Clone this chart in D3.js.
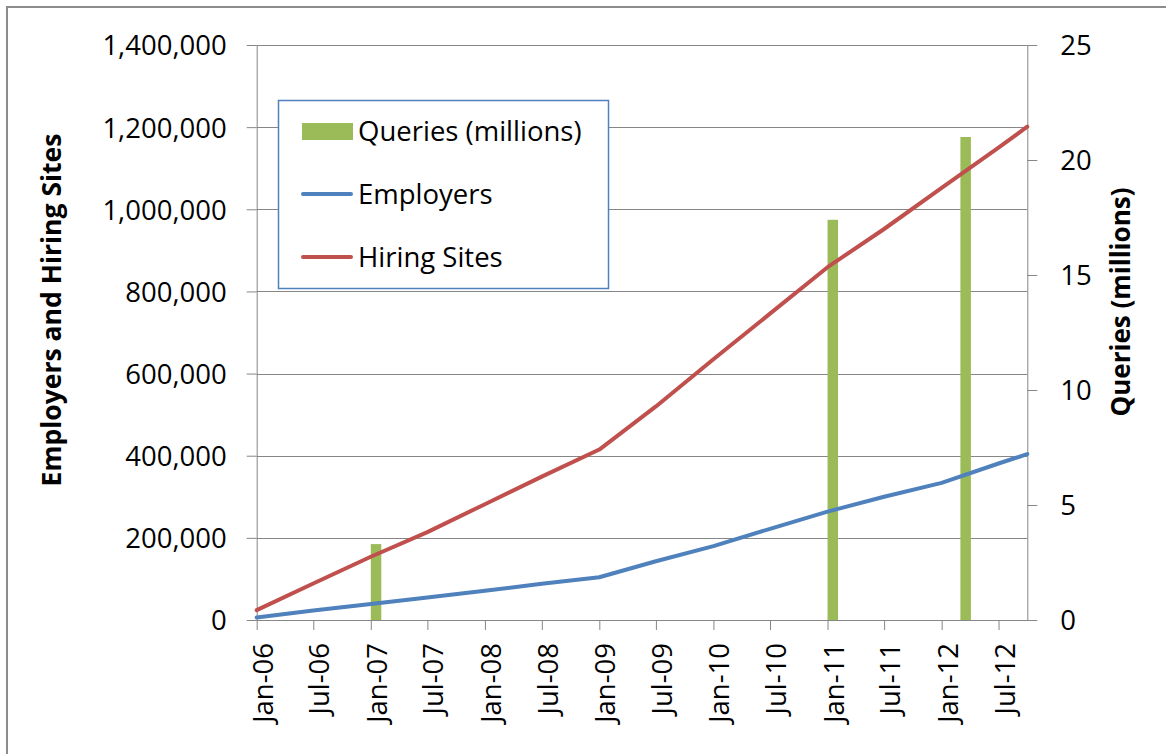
<!DOCTYPE html>
<html>
<head>
<meta charset="utf-8">
<script src="https://cdn.jsdelivr.net/npm/d3@7"></script>
<style>
  body { margin: 0; background: #fff; }
  svg { display: block; font-family: "Open Sans", sans-serif; }
</style>
</head>
<body>
<div id="chart"></div>
<script>
// half-year readings, last point is the end of the axis
const months = ["2006-01", "2006-07", "2007-01", "2007-07", "2008-01", "2008-07", "2009-01",
  "2009-07", "2010-01", "2010-07", "2011-01", "2011-07", "2012-01", "2012-07", "2012-10"];
const employers = [6000, 23000, 39000, 55000, 71000, 88000, 104000,
  143000, 180000, 222000, 264000, 300000, 334000, 381000, 404000];
const hiringSites = [24000, 89000, 154000, 214000, 282000, 349000, 415000,
  520000, 635000, 746000, 859000, 952000, 1052000, 1150000, 1201000];

const queryMonths = ["2007-01", "2011-01", "2012-03"];
const queries = [3.3, 17.4, 21.0];

const leftTicks = [0, 200000, 400000, 600000, 800000, 1000000, 1200000, 1400000];
const rightTicks = [0, 5, 10, 15, 20, 25];

const legendItems = ["Queries (millions)", "Employers", "Hiring Sites"];

document.addEventListener('DOMContentLoaded', function () {
  const width = 1166, height = 754;
  const left = 256.7, right = 1027.3, top = 45, bottom = 620;
  const gray = '#868686';
  const red = '#c0504d', blue = '#4f81bd', green = '#9bbb59';

  const parse = d3.timeParse('%Y-%m');

  const svg = d3.select('#chart')
    .append('svg')
    .attr('width', width)
    .attr('height', height);

  // outer chart border (only left and top show in the frame)
  svg.append('rect')
    .attr('x', 7).attr('y', 7)
    .attr('width', 1200).attr('height', 800)
    .attr('fill', 'none')
    .attr('stroke', '#8c8c8c')
    .attr('stroke-width', 2);

  const x = d3.scaleTime()
    .domain([parse('2006-01'), parse('2012-10')])
    .range([left, right]);
  const yLeft = d3.scaleLinear().domain([0, 1400000]).range([bottom, top]);
  const yRight = d3.scaleLinear().domain([0, 25]).range([bottom, top]);

  // gridlines
  svg.append('g')
    .selectAll('line')
    .data(leftTicks)
    .enter()
    .append('line')
    .attr('x1', left).attr('x2', right)
    .attr('y1', d => Math.round(yLeft(d)) + 0.5)
    .attr('y2', d => Math.round(yLeft(d)) + 0.5)
    .attr('stroke', gray)
    .attr('stroke-width', 1);

  // axes
  const fontSize = '27.5px';

  const gLeft = svg.append('g')
    .attr('transform', `translate(${left},0)`)
    .call(d3.axisLeft(yLeft).tickValues(leftTicks).tickFormat(d3.format(','))
      .tickSize(10).tickSizeOuter(0).tickPadding(20));

  const gRight = svg.append('g')
    .attr('transform', `translate(${right},0)`)
    .call(d3.axisRight(yRight).tickValues(rightTicks)
      .tickSize(10).tickSizeOuter(0).tickPadding(23));

  const xTicks = d3.timeMonth.every(6).range(parse('2006-01'), parse('2012-10'));
  const gBottom = svg.append('g')
    .attr('transform', `translate(0,${bottom})`)
    .call(d3.axisBottom(x).tickValues(xTicks).tickFormat(d3.timeFormat('%b-%y'))
      .tickSize(10).tickSizeOuter(0));

  gBottom.selectAll('text')
    .attr('transform', 'rotate(-90)')
    .attr('text-anchor', 'end')
    .attr('x', -23)
    .attr('y', 0)
    .attr('dy', 15.5);

  [gLeft, gRight, gBottom].forEach(g => {
    g.select('.domain').attr('stroke', gray).attr('stroke-width', 1);
    g.selectAll('.tick line').attr('stroke', gray).attr('stroke-width', 1);
    g.selectAll('text')
      .attr('fill', '#000')
      .style('font-family', '"Open Sans", sans-serif')
      .style('font-size', fontSize);
  });
  gLeft.selectAll('text').attr('dy', '0.36em');
  gRight.selectAll('text').attr('dy', '0.36em');

  // queries bars, one month wide starting at the date
  const barData = queryMonths.map((m, i) => ({ date: parse(m), value: queries[i] }));
  svg.append('g')
    .selectAll('rect')
    .data(barData)
    .enter()
    .append('rect')
    .attr('x', d => x(d.date))
    .attr('width', d => x(d3.timeMonth.offset(d.date, 1)) - x(d.date) + 0.8)
    .attr('y', d => yRight(d.value))
    .attr('height', d => bottom - yRight(d.value))
    .attr('fill', green);

  // lines
  const line = d3.line()
    .x(d => x(d.date))
    .y(d => yLeft(d.value));

  const series = [
    { name: 'Employers', color: blue, values: employers },
    { name: 'Hiring Sites', color: red, values: hiringSites }
  ];

  series.forEach(s => {
    const pts = months.map((m, i) => ({ date: parse(m), value: s.values[i] }));
    svg.append('path')
      .datum(pts)
      .attr('d', line)
      .attr('fill', 'none')
      .attr('stroke', s.color)
      .attr('stroke-width', 4)
      .attr('stroke-linecap', 'round')
      .attr('stroke-linejoin', 'round');
  });

  // axis titles
  svg.append('text')
    .attr('transform', 'translate(61,310) rotate(-90)')
    .attr('text-anchor', 'middle')
    .style('font-size', '26.5px')
    .style('font-weight', 'bold')
    .text('Employers and Hiring Sites');

  svg.append('text')
    .attr('transform', 'translate(1130,302) rotate(-90)')
    .attr('text-anchor', 'middle')
    .style('font-size', '26px')
    .style('font-weight', 'bold')
    .text('Queries (millions)');

  // legend
  const legend = svg.append('g');
  legend.append('rect')
    .attr('x', 278.5).attr('y', 100.5)
    .attr('width', 330).attr('height', 188)
    .attr('fill', '#fff')
    .attr('stroke', blue)
    .attr('stroke-width', 1.5);

  const rowY = [131, 194, 257];
  legend.append('rect')
    .attr('x', 302).attr('y', 123)
    .attr('width', 51).attr('height', 17)
    .attr('fill', green);
  [blue, red].forEach((c, i) => {
    legend.append('line')
      .attr('x1', 303).attr('x2', 351)
      .attr('y1', rowY[i + 1]).attr('y2', rowY[i + 1])
      .attr('stroke', c)
      .attr('stroke-width', 4)
      .attr('stroke-linecap', 'round');
  });

  legend.selectAll('text.item')
    .data(legendItems)
    .enter()
    .append('text')
    .attr('class', 'item')
    .attr('x', 358)
    .attr('y', (d, i) => rowY[i])
    .attr('dy', '0.36em')
    .style('font-size', fontSize)
    .text(d => d);
});
</script>
</body>
</html>
